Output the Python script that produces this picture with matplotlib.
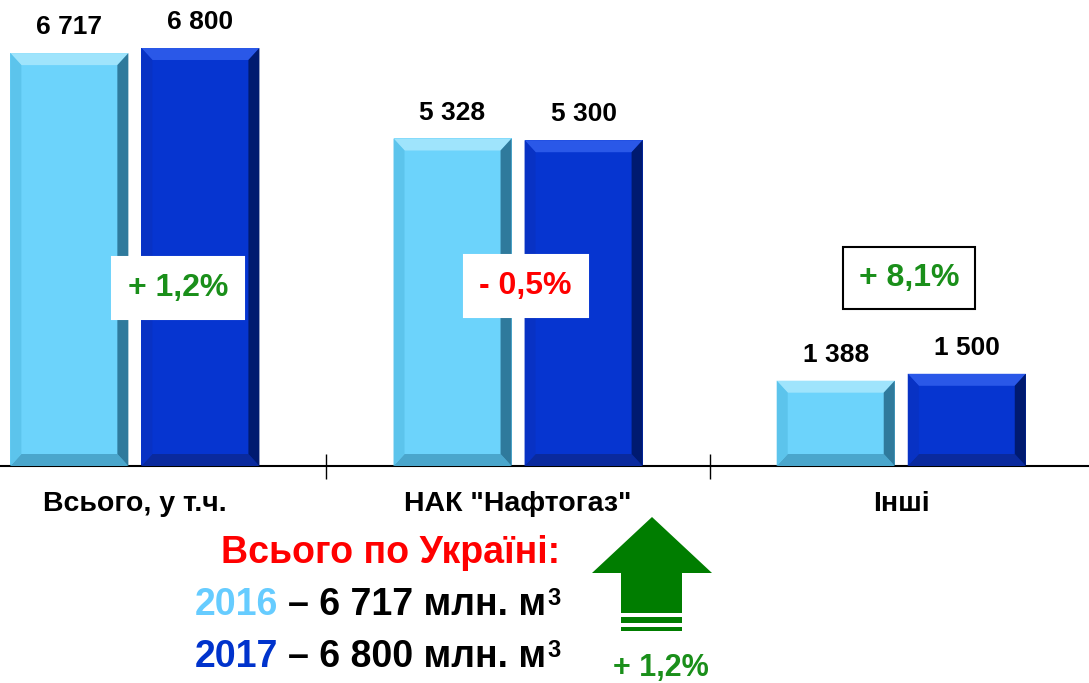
import numpy as np
import matplotlib.pyplot as plt
from matplotlib.patches import Polygon, Rectangle

plt.rcParams.update({
    "font.family": ["Liberation Sans", "DejaVu Sans"],
    "font.size": 16,
})

categories = ['Всього, у т.ч.', 'НАК "Нафтогаз"', 'Інші']
v2016 = [6717, 5328, 1388]
v2017 = [6800, 5300, 1500]
changes = ['+ 1,2%', '- 0,5%', '+ 8,1%']
change_colors = ['#1a8f1a', '#ff0000', '#1a8f1a']
total_2016 = 6717
total_2017 = 6800
total_change = '+ 1,2%'

W, H = 1089, 683
fig = plt.figure(figsize=(W / 100, H / 100), dpi=100)
ax = fig.add_axes([0, (H - 466) / H, 1, 466 / H])

ymax = 7581
ax.set_xlim(-0.352, 2.49)
ax.set_ylim(0, ymax)

# bevel size in data units (~12 px)
bx = 11 / 383
by = 12 * ymax / 466

light = dict(face='#6cd3fb', top='#9fe4fc', left='#5cc4ec', right='#2f7a9c', bottom='#4aa6cc')
dark = dict(face='#0635d0', top='#2a58e8', left='#0832c4', right='#001a70', bottom='#0a2a9e')


def bevel_bar(xc, h, w, c):
    ax.bar(xc, h, w, color=c['face'], zorder=2)
    x0, x1 = xc - w / 2, xc + w / 2
    polys = [
        ([(x0, h), (x1, h), (x1 - bx, h - by), (x0 + bx, h - by)], c['top']),
        ([(x0, 0), (x1, 0), (x1 - bx, by), (x0 + bx, by)], c['bottom']),
        ([(x0, 0), (x0, h), (x0 + bx, h - by), (x0 + bx, by)], c['left']),
        ([(x1, 0), (x1, h), (x1 - bx, h - by), (x1 - bx, by)], c['right']),
    ]
    for pts, col in polys:
        ax.add_patch(Polygon(pts, closed=True, facecolor=col, edgecolor='none', zorder=3))


def fmt(v):
    return f"{v:,}".replace(',', ' ')


x = np.arange(len(categories))
bw = 0.308
off = 0.171
for i in range(len(categories)):
    for xc, v, c in [(x[i] - off, v2016[i], light), (x[i] + off, v2017[i], dark)]:
        bevel_bar(xc, v, bw, c)
        ax.annotate(fmt(v), (xc, v), xytext=(0, 10), textcoords='offset points',
                    ha='center', va='bottom', fontsize=19, fontweight='bold')

# change boxes
box_dx = [0.112, 0.02, 0.02]
box_y = [2890, 2930, 3060]
box_edge = ['white', 'white', 'black']
for i in range(len(categories)):
    ax.text(x[i] + box_dx[i], box_y[i], changes[i], ha='center', va='center',
            fontsize=23, fontweight='bold', color=change_colors[i], zorder=5,
            bbox=dict(boxstyle='square,pad=0.5', facecolor='white',
                      edgecolor=box_edge[i], linewidth=1.5))

for s in ['left', 'right', 'top']:
    ax.spines[s].set_visible(False)
ax.spines['bottom'].set_linewidth(1.5)
ax.set_yticks([])
ax.set_xticks(x)
ax.set_xticklabels(categories, fontweight='bold', fontsize=20.5)
ax.tick_params(axis='x', which='major', length=0, pad=18)
ax.set_xticks([0.5, 1.5], minor=True)
ax.tick_params(axis='x', which='minor', length=18, direction='inout', width=1)


def fx(px, py):
    return (px / W, 1 - py / H)


# totals text
fig.text(*fx(391, 553), 'Всього по Україні:', ha='center', va='center',
         fontsize=27, fontweight='bold', color='#ff0000')
for yr, tot, col, py in [(2016, total_2016, '#66ccff', 605), (2017, total_2017, '#0033cc', 657)]:
    t = fig.text(*fx(195, py), str(yr), ha='left', va='center',
                 fontsize=27, fontweight='bold', color=col)
    t2 = ax.annotate(f'– {fmt(tot)} млн. м', xy=(1, 0), xycoords=t, xytext=(7, 0),
                     textcoords='offset points', ha='left', va='bottom',
                     fontsize=27, fontweight='bold', color='black', annotation_clip=False)
    ax.annotate('3', xy=(1, 1), xycoords=t2, xytext=(1, 0),
                textcoords='offset points', ha='left', va='top',
                fontsize=17, fontweight='bold', color='black', annotation_clip=False)

# green arrow
green = '#007d00'
arrow = [fx(592, 573), fx(652, 517), fx(712, 573), fx(682, 573),
         fx(682, 613), fx(621, 613), fx(621, 573)]
fig.add_artist(Polygon(arrow, closed=True, facecolor=green, edgecolor='none',
                       transform=fig.transFigure))
for y0, y1 in [(617, 623), (627, 631)]:
    fig.add_artist(Rectangle(fx(621, y1), 61 / W, (y1 - y0) / H, facecolor=green,
                             edgecolor='none', transform=fig.transFigure))
fig.text(*fx(661, 668), total_change, ha='center', va='center',
         fontsize=22, fontweight='bold', color='#1a8f1a')

fig.savefig('out.png', dpi=100)
